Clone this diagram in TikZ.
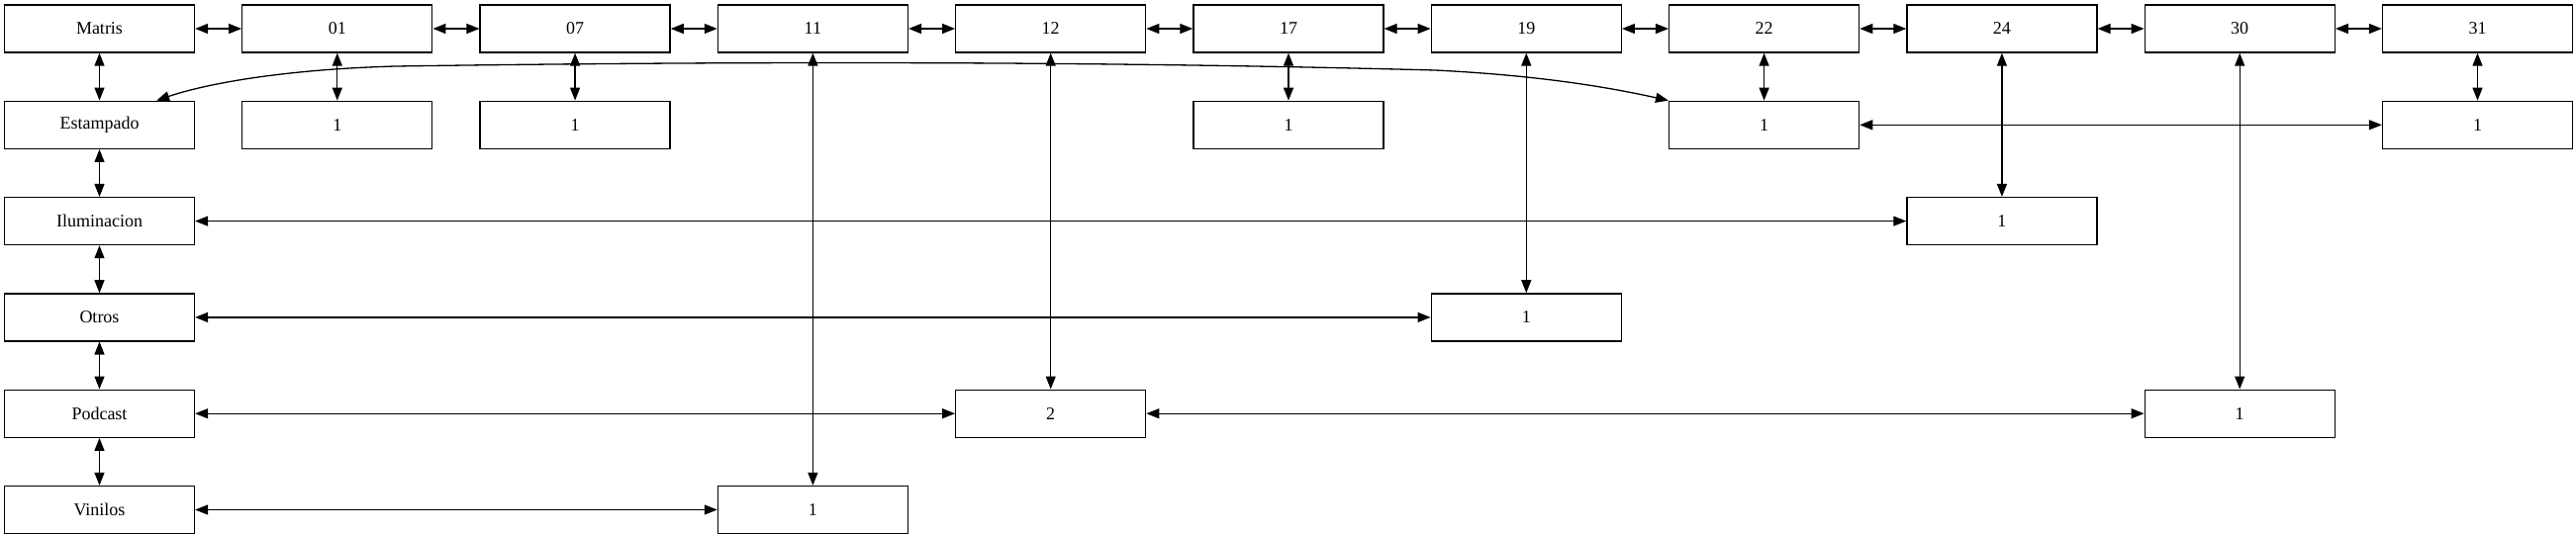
\documentclass[tikz,border=0pt]{standalone}
\usepackage{fontspec}
\setmainfont{Liberation Serif}
\usetikzlibrary{positioning,calc,arrows.meta}
\tikzset{
  box/.style={draw, line width=1.3pt, minimum width=192pt, minimum height=48pt, inner sep=0pt,
    font=\fontsize{18}{20}\selectfont},
  link/.style={<->, line width=1.3pt}
}
\begin{document}
\begin{tikzpicture}[x=1pt, y=1pt, >={Triangle[length=13pt,width=10pt]}]
  \useasboundingbox (0,0) rectangle (2603,539);
  \node[box] (matris) at (100.5,510) {Matris};
  \foreach \d [count=\i] in {01,07,11,12,17,19,22,24,30,31}
    \node[box] (d\d) at (100.5+240.3*\i,510) {\d};
  \node[box, below=48pt of matris] (est) {Estampado};
  \node[box, below=48pt of est] (ilu) {Iluminacion};
  \node[box, below=48pt of ilu] (otr) {Otros};
  \node[box, below=48pt of otr] (pod) {Podcast};
  \node[box, below=48pt of pod] (vin) {Vinilos};
  \node[box] (e01) at (d01 |- est) {1};
  \node[box] (e07) at (d07 |- est) {1};
  \node[box] (e17) at (d17 |- est) {1};
  \node[box] (e22) at (d22 |- est) {1};
  \node[box] (e31) at (d31 |- est) {1};
  \node[box] (i24) at (d24 |- ilu) {1};
  \node[box] (o19) at (d19 |- otr) {1};
  \node[box] (p12) at (d12 |- pod) {2};
  \node[box] (p30) at (d30 |- pod) {1};
  \node[box] (v11) at (d11 |- vin) {1};
  \foreach \a/\b in {matris/d01, d01/d07, d07/d11, d11/d12, d12/d17, d17/d19, d19/d22, d22/d24, d24/d30, d30/d31,
      matris/est, est/ilu, ilu/otr, otr/pod, pod/vin,
      d01/e01, d07/e07, d17/e17, d22/e22, d31/e31, e22/e31,
      d11/v11, d12/p12, d19/o19, d24/i24, d30/p30,
      ilu/i24, otr/o19, pod/p12, p12/p30, vin/v11}
    \draw[link] (\a) -- (\b);
  \draw[link] ($(est.north east)+(-39,0)$) .. controls (210,455) and (290,469) .. (400,472)
    .. controls (800,478) and (1150,476) .. (1450,468)
    .. controls (1550,463) and (1620,452) .. (e22.north west);
\end{tikzpicture}
\end{document}
